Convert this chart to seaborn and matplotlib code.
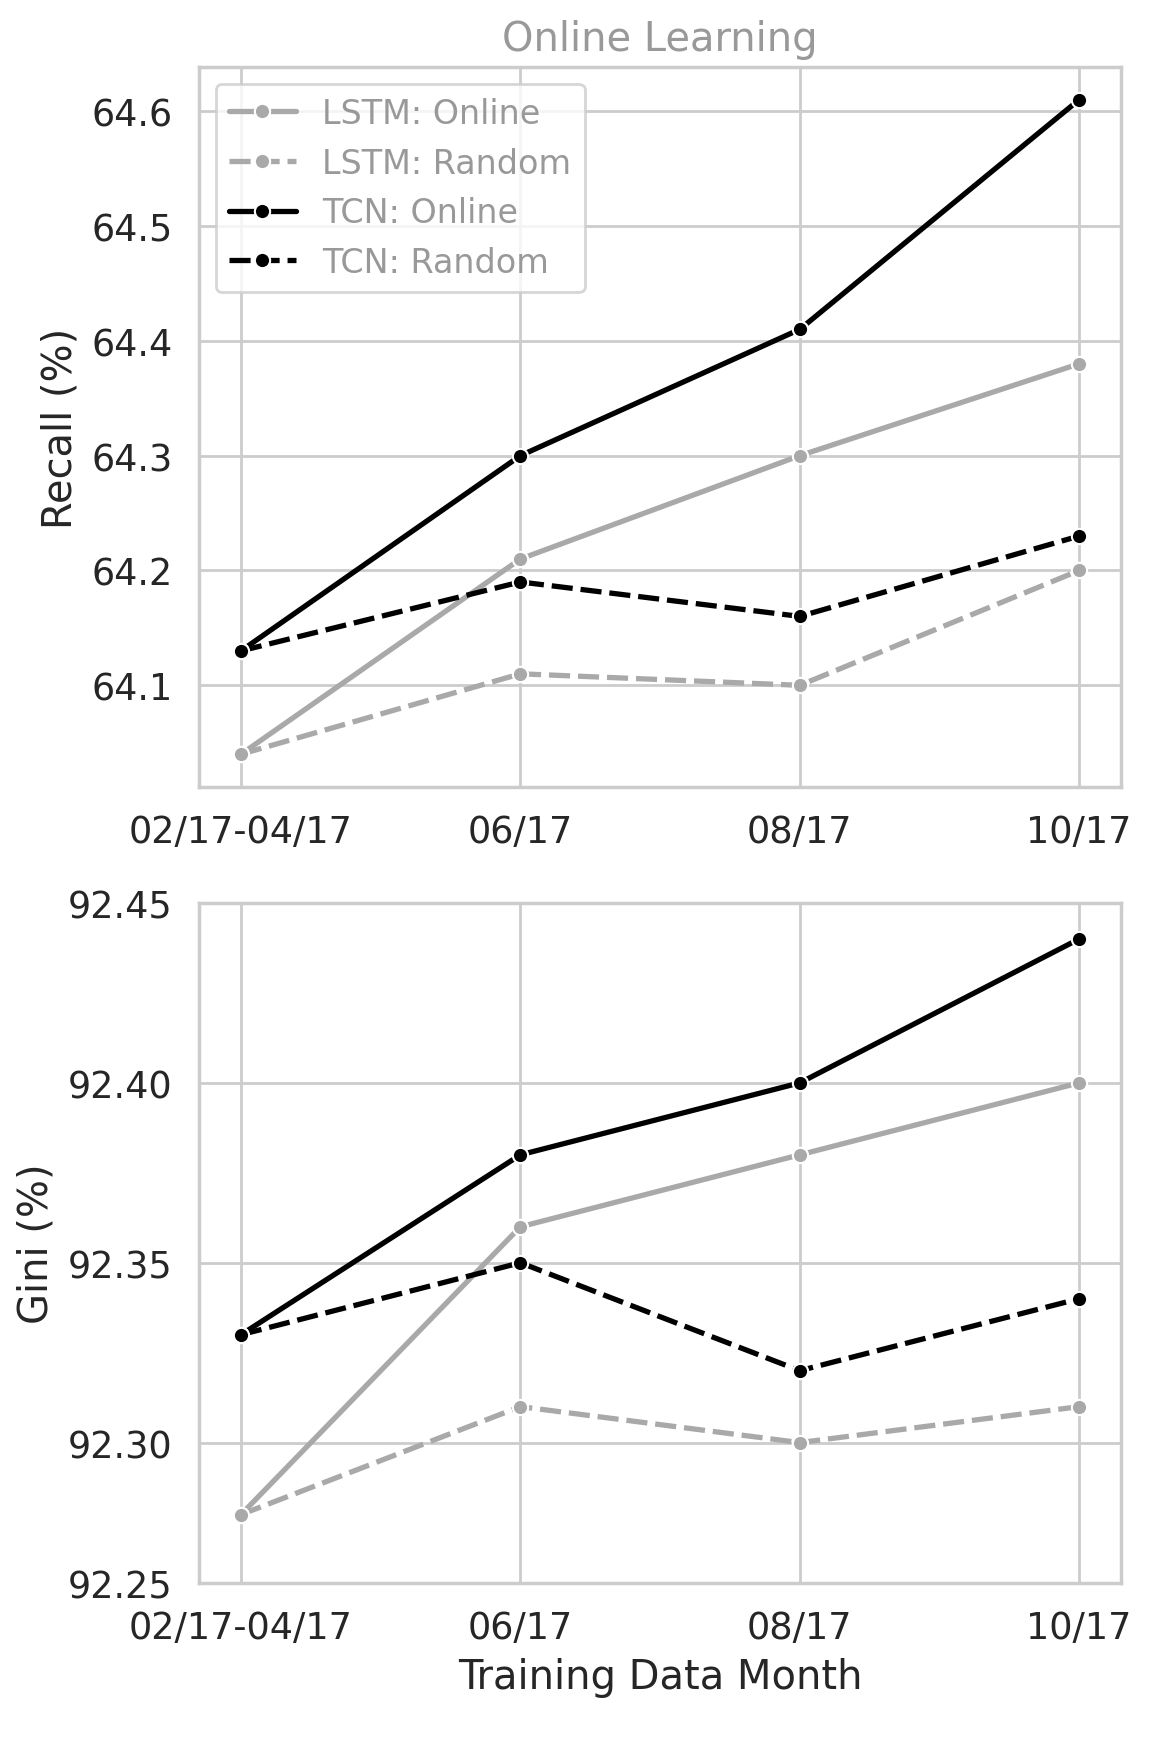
import pandas as pd
import seaborn as sns
import matplotlib.pyplot as plt

months = ["02/17-04/17", "06/17", "08/17", "10/17"]
series = ["LSTM: Online", "LSTM: Random", "TCN: Online", "TCN: Random"]

# Recall (%)
recall_lstm_online = [64.04, 64.21, 64.30, 64.38]
recall_lstm_random = [64.04, 64.11, 64.10, 64.20]
recall_tcn_online = [64.13, 64.30, 64.41, 64.61]
recall_tcn_random = [64.13, 64.19, 64.16, 64.23]

# Gini (%)
gini_lstm_online = [92.28, 92.36, 92.38, 92.40]
gini_lstm_random = [92.28, 92.31, 92.30, 92.31]
gini_tcn_online = [92.33, 92.38, 92.40, 92.44]
gini_tcn_random = [92.33, 92.35, 92.32, 92.34]

# the lowest gini tick sits on the bottom edge of the axis in the original
gini_ylim = (92.261, 92.45)
gini_ticks = [92.261, 92.30, 92.35, 92.40, 92.45]
gini_tick_labels = ["92.25", "92.30", "92.35", "92.40", "92.45"]


def to_long(values_list):
    rows = []
    for name, vals in zip(series, values_list):
        for m, v in zip(months, vals):
            rows.append({"Month": m, "Value": v, "Series": name})
    return pd.DataFrame(rows)


recall_df = to_long([recall_lstm_online, recall_lstm_random, recall_tcn_online, recall_tcn_random])
gini_df = to_long([gini_lstm_online, gini_lstm_random, gini_tcn_online, gini_tcn_random])

sns.set_theme(style="whitegrid", context="notebook", font_scale=1.2)

palette = {"LSTM: Online": "darkgray", "LSTM: Random": "darkgray",
           "TCN: Online": "black", "TCN: Random": "black"}
dashes = {"LSTM: Online": "", "LSTM: Random": (4, 1.5),
          "TCN: Online": "", "TCN: Random": (4, 1.5)}
markers = {s: "o" for s in series}

fig, (ax1, ax2) = plt.subplots(2, 1, figsize=(5.755, 8.78), dpi=200)

sns.lineplot(data=recall_df, x="Month", y="Value", hue="Series", style="Series",
             palette=palette, dashes=dashes, markers=markers, markersize=5.5,
             linewidth=1.9, sort=False, ax=ax1)
ax1.set_title("Online Learning", color="#999999")
ax1.set_ylabel("Recall (%)")
ax1.set_xlabel("")
leg = ax1.legend(loc="upper left", fontsize=12)
for t in leg.get_texts():
    t.set_color("#999999")

sns.lineplot(data=gini_df, x="Month", y="Value", hue="Series", style="Series",
             palette=palette, dashes=dashes, markers=markers, markersize=5.5,
             linewidth=1.9, sort=False, ax=ax2, legend=False)
ax2.set_ylim(*gini_ylim)
ax2.set_yticks(gini_ticks)
ax2.set_yticklabels(gini_tick_labels)
ax2.set_ylabel("Gini (%)")
ax2.set_xlabel("Training Data Month")

ax1.set_position([0.173, 0.5513, 0.801, 0.410])
ax2.set_position([0.173, 0.098, 0.801, 0.3872])
plt.savefig("out.png", dpi=200)
